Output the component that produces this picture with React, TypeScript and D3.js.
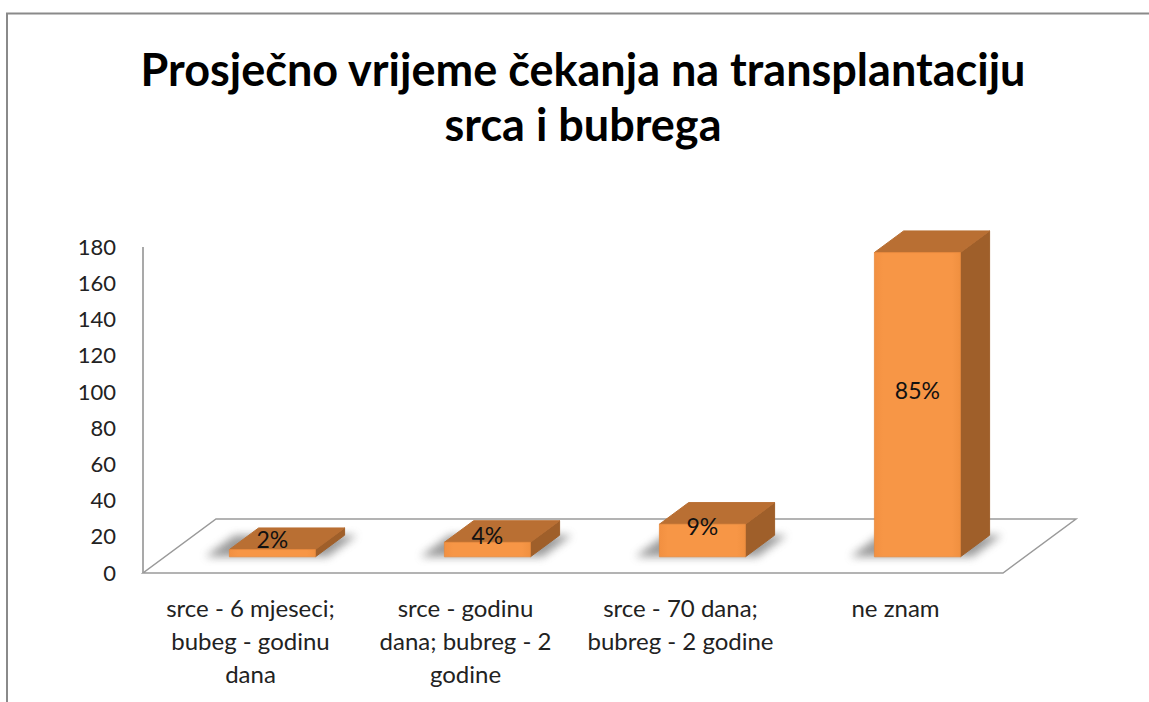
import * as d3 from 'd3'

const categories = [
  ['srce - 6 mjeseci;', 'bubeg - godinu', 'dana'],
  ['srce - godinu', 'dana; bubreg - 2', 'godine'],
  ['srce - 70 dana;', 'bubreg - 2 godine'],
  ['ne znam']
]
const counts = [4, 8, 18, 168]
const percentLabels = ['2%', '4%', '9%', '85%']
const titleLines = ['Prosječno vrijeme čekanja na transplantaciju', 'srca i bubrega']

const W = 1149
const H = 702
const FONT = 'Lato, "Open Sans", sans-serif'

// floor depth vector (front plane -> back plane)
const DEPTH = { dx: 73, dy: -54 }
const BAR_FRONT = 0.3
const BAR_BACK = 0.7

const FRONT_COLOR = '#f79646'
const TOP_COLOR = '#b96f33'
const SIDE_COLOR = '#9f5f2a'

export default function App() {
  const x = d3.scaleBand<number>()
    .domain(d3.range(categories.length))
    .range([143, 1003])
    .paddingInner(0.6)
    .paddingOuter(0.3)

  const y = d3.scaleLinear().domain([0, 180]).range([573, 247])
  const ticks = y.ticks(10)

  const proj = (px: number, v: number, f: number): [number, number] => [
    px + f * DEPTH.dx,
    y(v) + f * DEPTH.dy
  ]
  const poly = (pts: [number, number][]) => pts.map(p => p.join(',')).join(' ')

  const [fx0, fx1] = x.range()
  const floor = [proj(fx0, 0, 0), proj(fx1, 0, 0), proj(fx1, 0, 1), proj(fx0, 0, 1)]

  const bars = counts.map((v, i) => {
    const x0 = x(i)!
    const x1 = x0 + x.bandwidth()
    const front = [proj(x0, v, BAR_FRONT), proj(x1, v, BAR_FRONT), proj(x1, 0, BAR_FRONT), proj(x0, 0, BAR_FRONT)]
    const top = [proj(x0, v, BAR_FRONT), proj(x0, v, BAR_BACK), proj(x1, v, BAR_BACK), proj(x1, v, BAR_FRONT)]
    const side = [proj(x1, v, BAR_FRONT), proj(x1, v, BAR_BACK), proj(x1, 0, BAR_BACK), proj(x1, 0, BAR_FRONT)]
    const shadow = [proj(x0 - 24, 0, BAR_FRONT), proj(x1 + 12, 0, BAR_FRONT), proj(x1 + 12, 0, BAR_BACK), proj(x0 - 24, 0, BAR_BACK)]
    const mid = proj(x0 + x.bandwidth() / 2, v / 2, 0.55)
    const labelX = (front[0][0] + front[1][0]) / 2
    return { front, top, side, shadow, labelX, labelY: mid[1], v, i }
  })

  return (
    <svg width={W} height={H} style={{ position: 'absolute', left: 0, top: 0, background: '#fff' }}>
      <defs>
        <filter id="shadowBlur" x="-50%" y="-50%" width="200%" height="200%">
          <feGaussianBlur stdDeviation="4" />
        </filter>
        <linearGradient id="frontGrad" x1="0" y1="0" x2="1" y2="0">
          <stop offset="0" stopColor="#f29041" />
          <stop offset="0.1" stopColor={FRONT_COLOR} />
          <stop offset="0.9" stopColor={FRONT_COLOR} />
          <stop offset="1" stopColor="#f09040" />
        </linearGradient>
      </defs>

      {/* chart frame */}
      <rect x={7} y={13.5} width={W + 20} height={H + 20} fill="#fff" stroke="#8a8a8a" strokeWidth={2} />

      {/* title */}
      <text x={583} y={86} textAnchor="middle" fontFamily={FONT} fontWeight="bold" fontSize={45} fill="#000">
        {titleLines.map((t, i) => (
          <tspan key={i} x={583} dy={i === 0 ? 0 : 55}>{t}</tspan>
        ))}
      </text>

      {/* value axis */}
      <line x1={143} x2={143} y1={y(180)} y2={y(0)} stroke="#8c8c8c" strokeWidth={1.5} />
      {ticks.map(t => (
        <text key={t} x={116} y={y(t)} dy="0.35em" textAnchor="end" fontFamily={FONT} fontSize={22} fill="#222">
          {t}
        </text>
      ))}

      {/* floor */}
      <polygon points={poly(floor as [number, number][])} fill="#fff" stroke="#9a9a9a" strokeWidth={1.5} />

      {/* bars */}
      {bars.map(b => (
        <g key={b.i}>
          <polygon points={poly(b.shadow)} fill="#6f6f6f" opacity={0.7} filter="url(#shadowBlur)" />
          <polygon points={poly(b.side)} fill={SIDE_COLOR} stroke={SIDE_COLOR} strokeWidth={1} strokeLinejoin="round" />
          <polygon points={poly(b.top)} fill={TOP_COLOR} stroke={TOP_COLOR} strokeWidth={1} strokeLinejoin="round" />
          <polygon points={poly(b.front)} fill="url(#frontGrad)" stroke="#e88a3e" strokeWidth={0.8} strokeLinejoin="round" />
        </g>
      ))}

      {/* data labels */}
      {bars.map(b => (
        <text key={b.i} x={b.labelX} y={b.labelY} dy="0.35em" textAnchor="middle" fontFamily={FONT} fontSize={23} fill="#111">
          {percentLabels[b.i]}
        </text>
      ))}

      {/* category labels */}
      {categories.map((lines, i) => (
        <text key={i} textAnchor="middle" fontFamily={FONT} fontSize={24} fill="#222">
          {lines.map((l, j) => (
            <tspan key={j} x={x(i)! + x.bandwidth() / 2} y={617 + j * 33}>{l}</tspan>
          ))}
        </text>
      ))}
    </svg>
  )
}
